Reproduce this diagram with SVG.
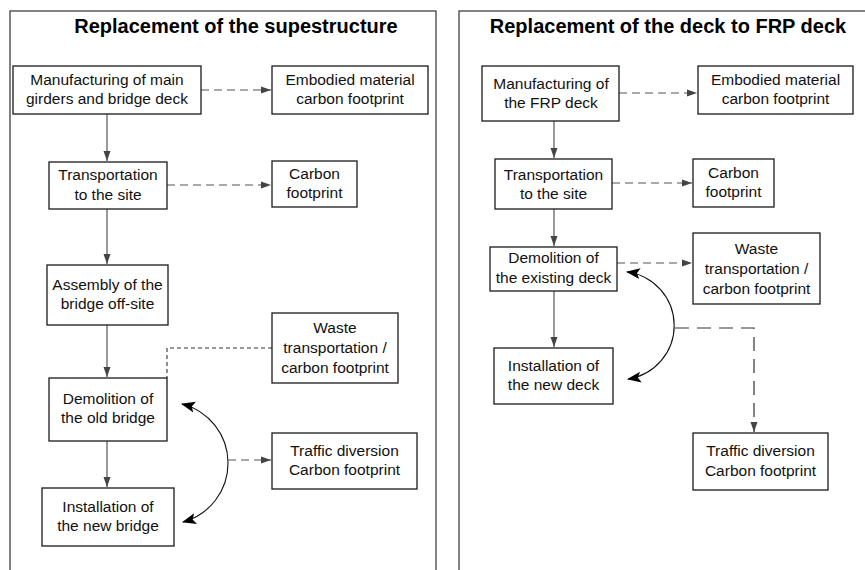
<svg xmlns="http://www.w3.org/2000/svg" width="865" height="570" viewBox="0 0 865 570">
<defs>
<style>
.panel{fill:none;stroke:#404040;stroke-width:1.3}
.box{fill:#fff;stroke:#1a1a1a;stroke-width:1.3}
.t{font-family:"Liberation Sans",Arial,sans-serif;font-size:15.5px;fill:#111;text-anchor:middle}
.title{font-family:"Liberation Sans",Arial,sans-serif;font-size:20px;font-weight:bold;fill:#000;text-anchor:middle}
.solid{fill:none;stroke:#555;stroke-width:1.2;marker-end:url(#ah)}
.dash{fill:none;stroke:#555;stroke-width:1.2;stroke-dasharray:8 5;marker-end:url(#ah)}
.dashs{fill:none;stroke:#333;stroke-width:1.1;stroke-dasharray:4 3}
.dashl{fill:none;stroke:#333;stroke-width:1.2;stroke-dasharray:14 8;marker-end:url(#ah)}
.curve{fill:none;stroke:#111;stroke-width:1.1;marker-start:url(#big);marker-end:url(#big)}
</style>
<marker id="ah" markerUnits="userSpaceOnUse" markerWidth="10" markerHeight="10" viewBox="0 0 10 10" refX="10" refY="5" orient="auto">
<path d="M0,1.5 L10,5 L0,8.5 Z" fill="#444"/>
</marker>
<marker id="big" markerUnits="userSpaceOnUse" markerWidth="14" markerHeight="12" viewBox="0 0 14 12" refX="13" refY="6" orient="auto-start-reverse">
<path d="M0,0.5 L14,6 L0,11.5 L3,6 Z" fill="#000"/>
</marker>
</defs>

<rect class="panel" x="10" y="11" width="426" height="580"/>
<rect class="panel" x="459" y="11" width="430" height="580"/>
<text class="title" x="236" y="33">Replacement of the supestructure</text>
<text class="title" x="668" y="33">Replacement of the deck to FRP deck</text>

<g id="connectors">
<line class="solid" x1="107" y1="114" x2="107" y2="161"/>
<line class="solid" x1="107" y1="209" x2="107" y2="264"/>
<line class="solid" x1="107" y1="325" x2="107" y2="377"/>
<line class="solid" x1="107" y1="441" x2="107" y2="487"/>
<line class="dash" x1="201" y1="90" x2="271" y2="90"/>
<line class="dash" x1="167" y1="185" x2="271" y2="185"/>
<polyline class="dashs" points="272,348 167,348 167,378"/>
<path class="curve" d="M182,404 A61,61 0 0 1 183,522"/>
<line class="dash" x1="228" y1="460" x2="271" y2="460"/>

<line class="solid" x1="554" y1="121" x2="554" y2="158"/>
<line class="solid" x1="554" y1="209" x2="554" y2="246"/>
<line class="solid" x1="554" y1="291" x2="554" y2="347"/>
<line class="dash" x1="619" y1="93" x2="697" y2="93"/>
<line class="dash" x1="612" y1="183" x2="692" y2="183"/>
<line class="dash" x1="617" y1="263" x2="692" y2="263"/>
<path class="curve" d="M627,272 A54,54 0 0 1 628,379"/>
<polyline class="dashl" points="675,328 754,328 754,432"/>
</g>

<g id="a1"><rect class="box" x="13" y="66" width="188" height="48"/><text class="t" x="107" y="85">Manufacturing of main</text><text class="t" x="107" y="104">girders and bridge deck</text></g>
<g id="a2"><rect class="box" x="272" y="66" width="156" height="48"/><text class="t" x="350" y="85">Embodied material</text><text class="t" x="350" y="104">carbon footprint</text></g>
<g id="a3"><rect class="box" x="49" y="162" width="118" height="47"/><text class="t" x="108" y="180">Transportation</text><text class="t" x="108" y="200">to the site</text></g>
<g id="a4"><rect class="box" x="272" y="161" width="85" height="46"/><text class="t" x="314.5" y="179">Carbon</text><text class="t" x="314.5" y="198">footprint</text></g>
<g id="a5"><rect class="box" x="47" y="265" width="121" height="60"/><text class="t" x="107.5" y="290">Assembly of the</text><text class="t" x="107.5" y="309">bridge off-site</text></g>
<g id="a6"><rect class="box" x="49" y="378" width="118" height="63"/><text class="t" x="108" y="404">Demolition of</text><text class="t" x="108" y="423">the old bridge</text></g>
<g id="a7"><rect class="box" x="272" y="313" width="126" height="70"/><text class="t" x="335" y="333">Waste</text><text class="t" x="335" y="353">transportation /</text><text class="t" x="335" y="373">carbon footprint</text></g>
<g id="a8"><rect class="box" x="42" y="488" width="132" height="58"/><text class="t" x="108" y="512">Installation of</text><text class="t" x="108" y="531">the new bridge</text></g>
<g id="a9"><rect class="box" x="272" y="433" width="145" height="56"/><text class="t" x="344.5" y="456">Traffic diversion</text><text class="t" x="344.5" y="475">Carbon footprint</text></g>

<g id="b1"><rect class="box" x="482" y="66" width="137" height="55"/><text class="t" x="551" y="89">Manufacturing of</text><text class="t" x="551" y="108">the FRP deck</text></g>
<g id="b2"><rect class="box" x="698" y="66" width="155" height="48"/><text class="t" x="775.5" y="85">Embodied material</text><text class="t" x="775.5" y="104">carbon footprint</text></g>
<g id="b3"><rect class="box" x="495" y="159" width="117" height="50"/><text class="t" x="553.5" y="180">Transportation</text><text class="t" x="553.5" y="199">to the site</text></g>
<g id="b4"><rect class="box" x="693" y="159" width="81" height="48"/><text class="t" x="733.5" y="178">Carbon</text><text class="t" x="733.5" y="197">footprint</text></g>
<g id="b5"><rect class="box" x="490" y="247" width="127" height="44"/><text class="t" x="553.5" y="263">Demolition of</text><text class="t" x="553.5" y="283">the existing deck</text></g>
<g id="b6"><rect class="box" x="693" y="233" width="127" height="71"/><text class="t" x="756.5" y="254">Waste</text><text class="t" x="756.5" y="274">transportation /</text><text class="t" x="756.5" y="294">carbon footprint</text></g>
<g id="b7"><rect class="box" x="494" y="348" width="119" height="56"/><text class="t" x="553.5" y="371">Installation of</text><text class="t" x="553.5" y="390">the new deck</text></g>
<g id="b8"><rect class="box" x="693" y="433" width="135" height="57"/><text class="t" x="760.5" y="456">Traffic diversion</text><text class="t" x="760.5" y="476">Carbon footprint</text></g>
</svg>
